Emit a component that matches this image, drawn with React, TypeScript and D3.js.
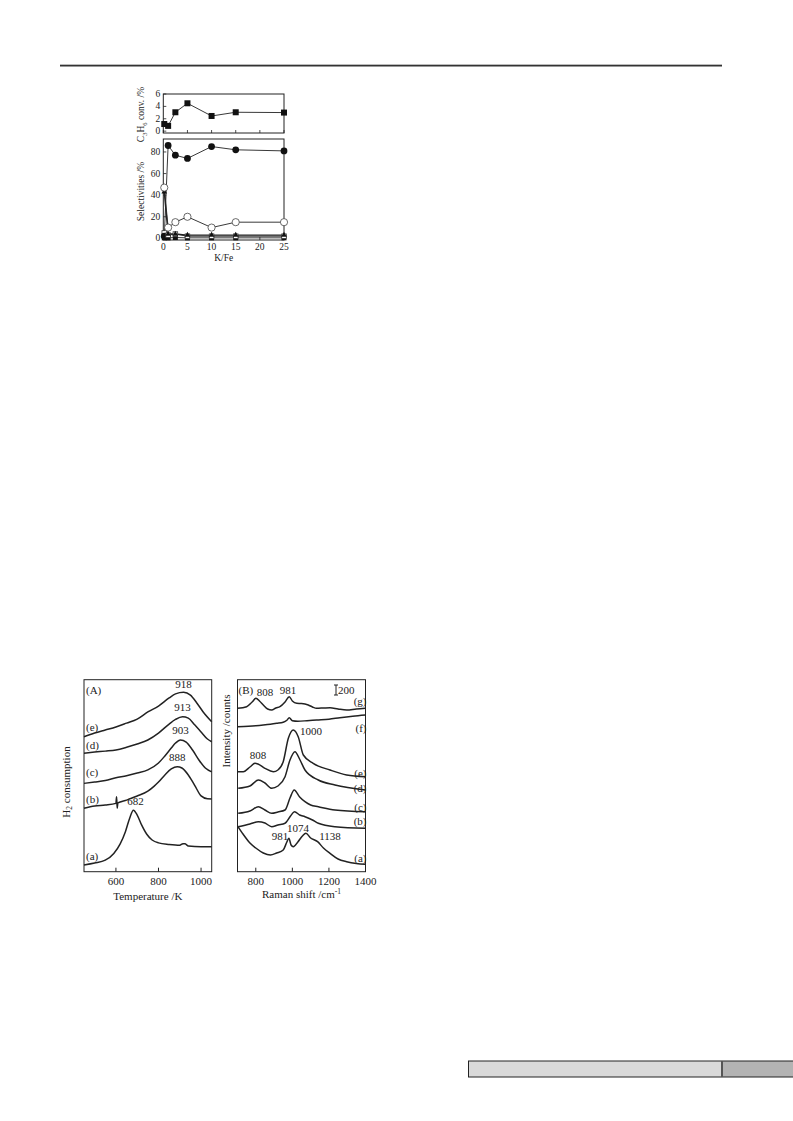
import React from 'react';
import * as d3 from 'd3';

// ---------- Top chart: K/Fe series ----------
const kFe = [0.2, 1, 2.5, 5, 10, 15, 25];
const c3h6Conv = [1.15, 0.85, 3.05, 4.5, 2.45, 3.05, 3.0];
const selFilledCircle = [2, 86, 77, 74, 85, 82, 81];
const selOpenCircle = [47, 10, 15, 20, 10, 15, 15];
const selTriangle = [43, 4, 4, 3, 3, 3, 3];
const selOpenSquare = [5, 3, 4, 2, 2, 2, 2];
const selFilledSquare = [0.5, 0.5, 0.8, 0.5, 0.5, 0.5, 0.5];
const kFeTicks = [0, 5, 10, 15, 20, 25];
const convTicks = [0, 2, 4, 6];
const selTicks = [0, 20, 40, 60, 80];

// ---------- (A) H2-TPR ----------
const tprTicks = [600, 800, 1000];
const tprA_T = [450, 500, 550, 590, 620, 645, 665, 682, 700, 720, 745, 770, 800, 850, 900, 915, 925, 940, 1000, 1050];
const tprA_V = [3.5, 4.5, 6, 9.5, 14.5, 21, 28, 32, 29.5, 24.5, 19.5, 16.5, 15, 14.2, 13.8, 14.6, 14.5, 13.4, 13, 13];
const tprB_T = [450, 500, 550, 600, 603, 606, 609, 650, 700, 750, 780, 800, 830, 860, 888, 910, 940, 970, 1000, 1030, 1050];
const tprB_V = [33, 34.2, 34.7, 35.6, 39, 33, 35.8, 37.3, 39.4, 42, 44.6, 46.7, 50.4, 53.5, 54.7, 54, 50.4, 45, 39.5, 38, 37.9];
const tprC_T = [450, 500, 550, 600, 650, 700, 750, 800, 830, 860, 880, 903, 930, 960, 990, 1020, 1050];
const tprC_V = [46, 46.7, 47.5, 48.9, 50, 51.4, 53, 56.6, 60.3, 64.4, 67, 68.6, 67.5, 63.4, 58.2, 54, 52];
const tprD_T = [450, 500, 550, 600, 650, 700, 750, 800, 850, 880, 913, 940, 970, 1000, 1030, 1050];
const tprD_V = [61.7, 62.3, 62.8, 63.4, 64.8, 66.5, 68.6, 72.2, 76.9, 79.3, 80.7, 80, 76.5, 72.8, 69.1, 67.7];
const tprE_T = [450, 500, 550, 600, 650, 700, 750, 800, 850, 880, 918, 950, 980, 1010, 1050];
const tprE_V = [70.3, 72.2, 73.8, 75.4, 77.4, 79.5, 83.2, 86.3, 90.5, 92.6, 93.4, 92, 87.9, 83.2, 78.1];
const tprCurveLabels = ['(a)', '(b)', '(c)', '(d)', '(e)'];
const tprPeakLabels = ['682', '888', '903', '913', '918'];

// ---------- (B) Raman ----------
const ramanTicks = [800, 1000, 1200, 1400];
const ramA_W = [700, 730, 768, 800, 841, 880, 914, 950, 970, 981, 993, 1005, 1030, 1055, 1074, 1100, 1138, 1170, 1206, 1250, 1297, 1350, 1400];
const ramA_V = [914, 754, 574, 474, 374, 334, 374, 434, 594, 668, 534, 500, 594, 714, 768, 674, 600, 474, 368, 254, 200, 164, 148];
const ramB_W = [704, 768, 814, 850, 887, 921, 960, 990, 1012, 1040, 1069, 1110, 1142, 1233, 1400];
const ramB_V = [900, 954, 1000, 974, 900, 934, 968, 1114, 1200, 1134, 1100, 1034, 968, 900, 868];
const ramC_W = [704, 768, 814, 850, 887, 921, 960, 987, 1010, 1040, 1069, 1100, 1142, 1233, 1400];
const ramC_V = [1168, 1214, 1300, 1234, 1168, 1194, 1234, 1474, 1634, 1494, 1400, 1334, 1300, 1234, 1200];
const ramD_W = [704, 768, 814, 850, 887, 921, 960, 987, 1014, 1042, 1069, 1142, 1233, 1400];
const ramD_V = [1668, 1714, 1834, 1774, 1668, 1714, 1900, 2234, 2400, 2234, 2034, 1834, 1734, 1634];
const ramE_W = [700, 732, 768, 796, 812, 850, 896, 921, 950, 978, 1005, 1032, 1060, 1114, 1206, 1297, 1400];
const ramE_V = [2000, 2000, 2094, 2168, 2154, 2068, 2000, 2034, 2200, 2668, 2834, 2700, 2334, 2168, 2034, 1934, 1900];
const ramF_W = [700, 760, 800, 841, 880, 914, 950, 970, 983, 1000, 1030, 1080, 1133, 1200, 1260, 1330, 1400];
const ramF_V = [2900, 2910, 2920, 2934, 2950, 2968, 2990, 3030, 3080, 3020, 3010, 3020, 3034, 3050, 3080, 3110, 3134];
const ramG_W = [700, 750, 780, 801, 820, 841, 865, 887, 910, 932, 960, 983, 1000, 1024, 1050, 1087, 1110, 1133, 1170, 1206, 1250, 1297, 1350, 1400];
const ramG_V = [3268, 3300, 3394, 3468, 3414, 3334, 3254, 3234, 3274, 3300, 3394, 3500, 3414, 3368, 3364, 3334, 3294, 3268, 3274, 3280, 3254, 3234, 3254, 3268];
const ramanCurveLabels = ['(a)', '(b)', '(c)', '(d)', '(e)', '(f)', '(g)'];
const scaleBarCounts = 200;

const FONT = '"Liberation Serif", "Times New Roman", serif';
const INK = '#222';

function pairs(xs: number[], ys: number[]): [number, number][] {
  return xs.map((x, i) => [x, ys[i]] as [number, number]);
}

function TopChart() {
  const x = d3.scaleLinear().domain([0, 25]).range([163.3, 284]);
  const yC = d3.scaleLinear().domain([-0.3, 6]).range([133, 94]);
  const yS = d3.scaleLinear().domain([-1.5, 92]).range([240, 139]);
  const lineC = d3.line<[number, number]>().x(d => x(d[0])).y(d => yC(d[1]));
  const lineS = d3.line<[number, number]>().x(d => x(d[0])).y(d => yS(d[1]));
  const [x0, x1] = x.range();
  const fs = 9.5;
  const sq = 6;
  return (
    <g fontFamily={FONT} fill={INK}>
      {/* top panel */}
      <rect x={x0} y={yC.range()[1]} width={x1 - x0} height={yC.range()[0] - yC.range()[1]} fill="none" stroke={INK} strokeWidth={1} />
      {convTicks.map(t => (
        <g key={'ct' + t}>
          <line x1={x0} x2={x0 + 3} y1={yC(t)} y2={yC(t)} stroke={INK} strokeWidth={0.8} />
          <text x={x0 - 3} y={yC(t)} textAnchor="end" dominantBaseline="central" fontSize={fs}>{t}</text>
        </g>
      ))}
      {kFeTicks.map(t => (
        <line key={'cx' + t} x1={x(t)} x2={x(t)} y1={yC.range()[0]} y2={yC.range()[0] - 3} stroke={INK} strokeWidth={0.8} />
      ))}
      <path d={lineC(pairs(kFe, c3h6Conv)) || ''} fill="none" stroke={INK} strokeWidth={0.9} />
      {kFe.map((k, i) => (
        <rect key={'cs' + i} x={x(k) - sq / 2} y={yC(c3h6Conv[i]) - sq / 2} width={sq} height={sq} fill="#111" />
      ))}
      <text transform={`translate(141,${(yC.range()[0] + yC.range()[1]) / 2 + 1}) rotate(-90)`} textAnchor="middle" dominantBaseline="central" fontSize={fs}>
        C<tspan fontSize={6.5} dy={2.5}>3</tspan><tspan dy={-2.5}>H</tspan><tspan fontSize={6.5} dy={2.5}>6</tspan><tspan dy={-2.5}> conv. /%</tspan>
      </text>

      {/* bottom panel */}
      <rect x={x0} y={yS.range()[1]} width={x1 - x0} height={yS.range()[0] - yS.range()[1]} fill="none" stroke={INK} strokeWidth={1} />
      {selTicks.map(t => (
        <g key={'st' + t}>
          <line x1={x0} x2={x0 + 3} y1={yS(t)} y2={yS(t)} stroke={INK} strokeWidth={0.8} />
          <text x={x0 - 3} y={yS(t)} textAnchor="end" dominantBaseline="central" fontSize={fs}>{t}</text>
        </g>
      ))}
      {kFeTicks.map(t => (
        <g key={'sx' + t}>
          <line x1={x(t)} x2={x(t)} y1={yS.range()[0]} y2={yS.range()[0] - 3} stroke={INK} strokeWidth={0.8} />
          <text x={x(t)} y={yS.range()[0] + 10} textAnchor="middle" fontSize={fs}>{t}</text>
        </g>
      ))}
      <text x={(x0 + x1) / 2} y={261} textAnchor="middle" fontSize={fs}>K/Fe</text>
      <text transform={`translate(141,${(yS.range()[0] + yS.range()[1]) / 2 + 2}) rotate(-90)`} textAnchor="middle" dominantBaseline="central" fontSize={fs}>Selectivities /%</text>

      {[selFilledSquare, selOpenSquare, selTriangle, selOpenCircle, selFilledCircle].map((s, j) => (
        <path key={'sl' + j} d={lineS(pairs(kFe, s)) || ''} fill="none" stroke={INK} strokeWidth={j === 2 ? 1.4 : 0.9} />
      ))}
      {kFe.map((k, i) => (
        <g key={'mk' + i}>
          <rect x={x(k) - 2.5} y={yS(selFilledSquare[i]) - 2.5} width={5} height={5} fill="#111" />
          <rect x={x(k) - 2.3} y={yS(selOpenSquare[i]) - 2.3} width={4.6} height={4.6} fill="#fff" stroke="#333" strokeWidth={0.8} />
          <path d={d3.symbol(d3.symbolTriangle, 14)() || ''} transform={`translate(${x(k)},${yS(selTriangle[i])})`} fill="#111" />
          <circle cx={x(k)} cy={yS(selOpenCircle[i])} r={3.6} fill="#fff" stroke="#444" strokeWidth={0.8} />
          <circle cx={x(k)} cy={yS(selFilledCircle[i])} r={3.4} fill="#111" />
        </g>
      ))}
    </g>
  );
}

function TprChart() {
  const x = d3.scaleLinear().domain([450, 1050]).range([84, 211.7]);
  const y = d3.scaleLinear().domain([0, 100]).range([871.7, 679.7]);
  const line = d3.line<[number, number]>().x(d => x(d[0])).y(d => y(d[1])).curve(d3.curveMonotoneX);
  const curves = [pairs(tprA_T, tprA_V), pairs(tprB_T, tprB_V), pairs(tprC_T, tprC_V), pairs(tprD_T, tprD_V), pairs(tprE_T, tprE_V)];
  const peakT = [682, 888, 903, 913, 918];
  const peakDy = [-5, -6, -6, -6, -4];
  const labelY = [856, 799, 772, 745, 727];
  const [x0, x1] = x.range();
  const [yb, yt] = y.range();
  const fs = 11;
  return (
    <g fontFamily={FONT} fill={INK}>
      <rect x={x0} y={yt} width={x1 - x0} height={yb - yt} fill="none" stroke={INK} strokeWidth={1} />
      {tprTicks.map(t => (
        <g key={'tt' + t}>
          <line x1={x(t)} x2={x(t)} y1={yb} y2={yb - 4} stroke={INK} strokeWidth={1} />
          <text x={x(t)} y={yb + 13} textAnchor="middle" fontSize={fs}>{t}</text>
        </g>
      ))}
      <text x={(x0 + x1) / 2} y={900} textAnchor="middle" fontSize={fs}>Temperature /K</text>
      <text transform={`translate(66,782) rotate(-90)`} textAnchor="middle" dominantBaseline="central" fontSize={fs}>
        H<tspan fontSize={7.5} dy={3}>2</tspan><tspan dy={-3}> consumption</tspan>
      </text>
      {curves.map((c, i) => (
        <path key={'tc' + i} d={line(c) || ''} fill="none" stroke={INK} strokeWidth={1.5} />
      ))}
      {curves.map((c, i) => {
        const idx = c.findIndex(p => p[0] === peakT[i]);
        const v = idx >= 0 ? c[idx][1] : 0;
        return (
          <text key={'pl' + i} x={x(peakT[i]) + (i === 0 ? 2 : 0)} y={y(v) + peakDy[i]} textAnchor="middle" fontSize={fs}>{tprPeakLabels[i]}</text>
        );
      })}
      {tprCurveLabels.map((l, i) => (
        <text key={'cl' + i} x={x0 + 2} y={labelY[i]} dominantBaseline="central" fontSize={fs}>{l}</text>
      ))}
      <text x={x0 + 2} y={690} dominantBaseline="central" fontSize={fs}>(A)</text>
    </g>
  );
}

function RamanChart() {
  const x = d3.scaleLinear().domain([700, 1400]).range([237.5, 365.5]);
  const y = d3.scaleLinear().domain([0, 3840]).range([871.7, 679.7]);
  const line = d3.line<[number, number]>().x(d => x(d[0])).y(d => y(d[1])).curve(d3.curveMonotoneX);
  const curves = [
    pairs(ramA_W, ramA_V), pairs(ramB_W, ramB_V), pairs(ramC_W, ramC_V), pairs(ramD_W, ramD_V),
    pairs(ramE_W, ramE_V), pairs(ramF_W, ramF_V), pairs(ramG_W, ramG_V),
  ];
  const labelY = [858, 821, 807, 788, 773, 728, 701];
  const [x0, x1] = x.range();
  const [yb, yt] = y.range();
  const fs = 11;
  const barX = 336;
  const barTop = 685;
  const barBot = barTop + (y(0) - y(scaleBarCounts));
  return (
    <g fontFamily={FONT} fill={INK}>
      <rect x={x0} y={yt} width={x1 - x0} height={yb - yt} fill="none" stroke={INK} strokeWidth={1} />
      {ramanTicks.map(t => (
        <g key={'rt' + t}>
          <line x1={x(t)} x2={x(t)} y1={yb} y2={yb - 4} stroke={INK} strokeWidth={1} />
          <text x={x(t)} y={yb + 13} textAnchor="middle" fontSize={fs}>{t}</text>
        </g>
      ))}
      <text x={(x0 + x1) / 2} y={898} textAnchor="middle" fontSize={fs}>
        Raman shift /cm<tspan fontSize={7.5} dy={-4}>-1</tspan>
      </text>
      <text transform={`translate(226,731) rotate(-90)`} textAnchor="middle" dominantBaseline="central" fontSize={fs}>Intensity /counts</text>
      {curves.map((c, i) => (
        <path key={'rc' + i} d={line(c) || ''} fill="none" stroke={INK} strokeWidth={1.5} />
      ))}
      {ramanCurveLabels.map((l, i) => (
        <text key={'rl' + i} x={x1 + 1} y={labelY[i]} textAnchor="end" dominantBaseline="central" fontSize={fs}>{l}</text>
      ))}
      <text x={x0 + 1} y={690} dominantBaseline="central" fontSize={fs}>(B)</text>
      <text x={265} y={692} textAnchor="middle" dominantBaseline="central" fontSize={fs}>808</text>
      <text x={288} y={690} textAnchor="middle" dominantBaseline="central" fontSize={fs}>981</text>
      <text x={311} y={731} textAnchor="middle" dominantBaseline="central" fontSize={fs}>1000</text>
      <text x={258} y={755} textAnchor="middle" dominantBaseline="central" fontSize={fs}>808</text>
      <text x={280} y={836} textAnchor="middle" dominantBaseline="central" fontSize={fs}>981</text>
      <text x={298} y={828} textAnchor="middle" dominantBaseline="central" fontSize={fs}>1074</text>
      <text x={330} y={836} textAnchor="middle" dominantBaseline="central" fontSize={fs}>1138</text>
      <line x1={barX} x2={barX} y1={barTop} y2={barBot} stroke={INK} strokeWidth={1} />
      <line x1={barX - 2} x2={barX + 2} y1={barTop} y2={barTop} stroke={INK} strokeWidth={1} />
      <line x1={barX - 2} x2={barX + 2} y1={barBot} y2={barBot} stroke={INK} strokeWidth={1} />
      <text x={barX + 2} y={(barTop + barBot) / 2} dominantBaseline="central" fontSize={fs}>{scaleBarCounts}</text>
    </g>
  );
}

export default function App() {
  return (
    <svg width={793} height={1121} style={{ position: 'absolute', left: 0, top: 0, background: '#fff' }}>
      <rect x={0} y={0} width={793} height={1121} fill="#fff" />
      {/* header rule */}
      <line x1={60} x2={722} y1={64.5} y2={64.5} stroke="#bbb" strokeWidth={1} />
      <line x1={60} x2={722} y1={65.8} y2={65.8} stroke="#333" strokeWidth={1.5} />
      <TopChart />
      <TprChart />
      <RamanChart />
      {/* footer bar */}
      <rect x={468.5} y={1061} width={253.5} height={16} fill="#d9d9d9" />
      <rect x={722} y={1061} width={71} height={16} fill="#b3b3b3" />
      <line x1={468} x2={793} y1={1061} y2={1061} stroke="#222" strokeWidth={1} />
      <line x1={468} x2={793} y1={1077} y2={1077} stroke="#222" strokeWidth={1} />
      <line x1={468.5} x2={468.5} y1={1061} y2={1077} stroke="#222" strokeWidth={1} />
      <line x1={722} x2={722} y1={1061} y2={1077} stroke="#555" strokeWidth={2} />
    </svg>
  );
}
